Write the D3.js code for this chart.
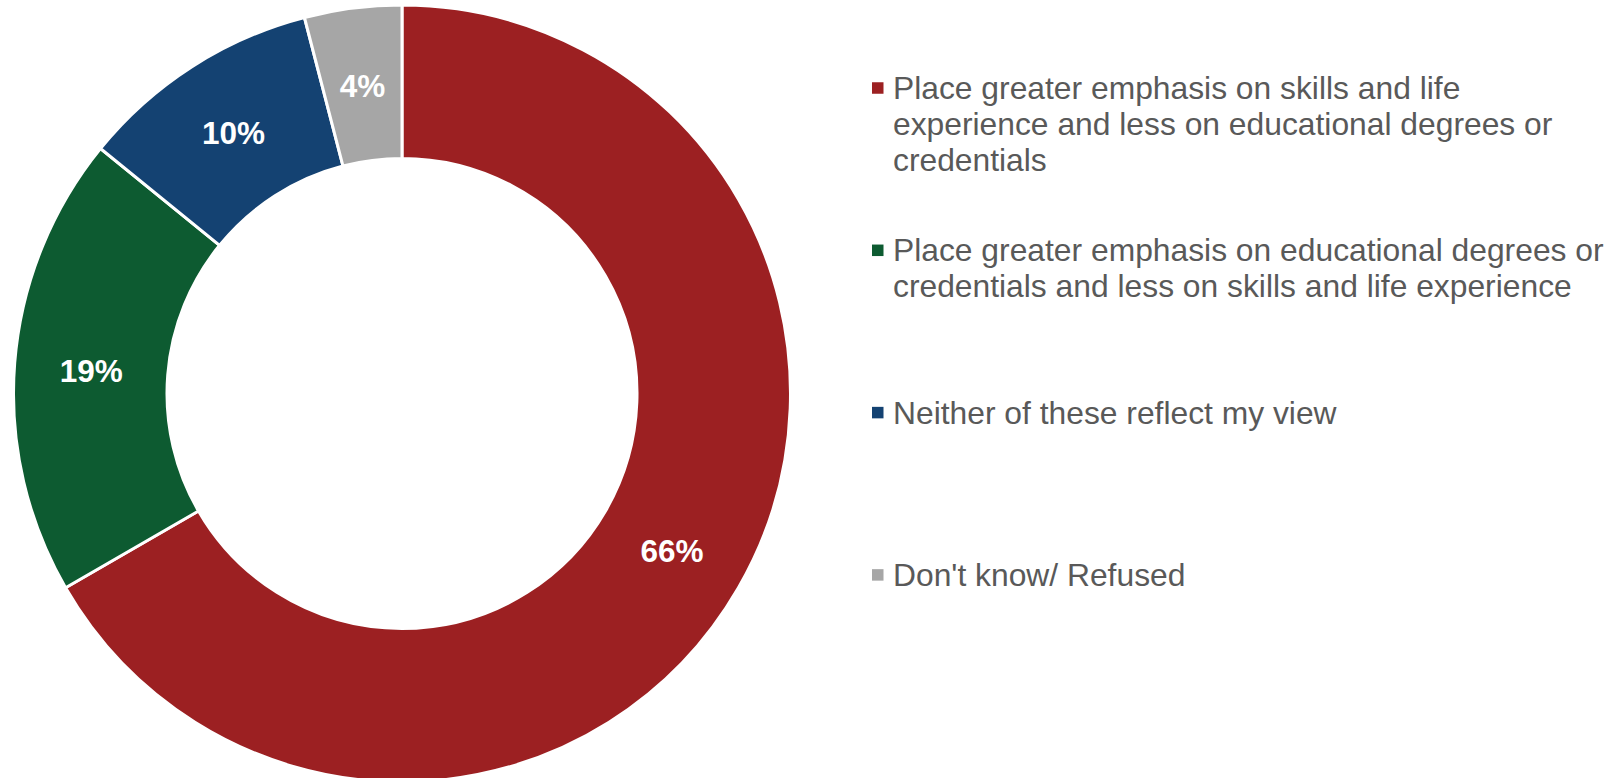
<!DOCTYPE html>
<html>
<head>
<meta charset="utf-8">
<script src="https://cdn.jsdelivr.net/npm/d3@7"></script>
<style>
  html, body { margin: 0; padding: 0; background: #ffffff; }
  svg { display: block; }
</style>
</head>
<body>
<svg id="chart" width="1614" height="778"></svg>
<script>
// ---- data ----
const categories = [
  "Place greater emphasis on skills and life experience and less on educational degrees or credentials",
  "Place greater emphasis on educational degrees or credentials and less on skills and life experience",
  "Neither of these reflect my view",
  "Don't know/ Refused"
];
// legend text as it wraps in the reference
const legendLines = [
  ["Place greater emphasis on skills and life", "experience and less on educational degrees or", "credentials"],
  ["Place greater emphasis on educational degrees or", "credentials and less on skills and life experience"],
  ["Neither of these reflect my view"],
  ["Don't know/ Refused"]
];
const values = [66, 19, 10, 4];
const valueLabels = ["66%", "19%", "10%", "4%"];
const colors = ["#9C2022", "#0D5B31", "#144272", "#A6A6A6"];

// ---- layout ----
const cx = 402, cy = 393.5;
const outerR = 388.5, innerR = 235;
const labelFont = 31.5;
const legendFont = 31.8;
const legendX = 872, legendTextX = 893;
const legendTop = 99, legendStep = 162.3, lineH = 36;

const svg = d3.select("#chart");

const pie = d3.pie().sort(null).value(d => d.value).startAngle(0).endAngle(2 * Math.PI);
const data = categories.map((c, i) => ({ cat: c, lines: legendLines[i], value: values[i], label: valueLabels[i], color: colors[i] }));
const arcs = pie(data);

const arc = d3.arc().innerRadius(innerR).outerRadius(outerR);

const g = svg.append("g").attr("transform", `translate(${cx},${cy})`);

g.selectAll("path.slice")
  .data(arcs)
  .enter().append("path")
  .attr("class", "slice")
  .attr("d", arc)
  .attr("fill", d => d.data.color)
  .attr("stroke", "#ffffff")
  .attr("stroke-width", 3)
  .attr("stroke-linejoin", "miter");

g.selectAll("text.val")
  .data(arcs)
  .enter().append("text")
  .attr("class", "val")
  .attr("x", d => arc.centroid(d)[0])
  .attr("y", d => arc.centroid(d)[1] + labelFont * 0.36 + 1.5)
  .attr("text-anchor", "middle")
  .attr("font-family", "'Liberation Sans', Arial, sans-serif")
  .attr("font-weight", "bold")
  .attr("font-size", labelFont)
  .attr("fill", "#ffffff")
  .text(d => d.data.label);

// ---- legend ----
const legend = svg.append("g");
data.forEach((d, i) => {
  const baseY = legendTop + i * legendStep;
  legend.append("rect")
    .attr("x", legendX)
    .attr("y", baseY - 11 - 5.75)
    .attr("width", 11.5)
    .attr("height", 11.5)
    .attr("fill", d.color);

  const t = legend.append("text")
    .attr("font-family", "'Liberation Sans', Arial, sans-serif")
    .attr("font-size", legendFont)
    .attr("fill", "#595959");

  d.lines.forEach((ln, j) => {
    t.append("tspan")
      .attr("x", legendTextX)
      .attr("y", baseY + j * lineH)
      .text(ln);
  });
});
</script>
</body>
</html>
